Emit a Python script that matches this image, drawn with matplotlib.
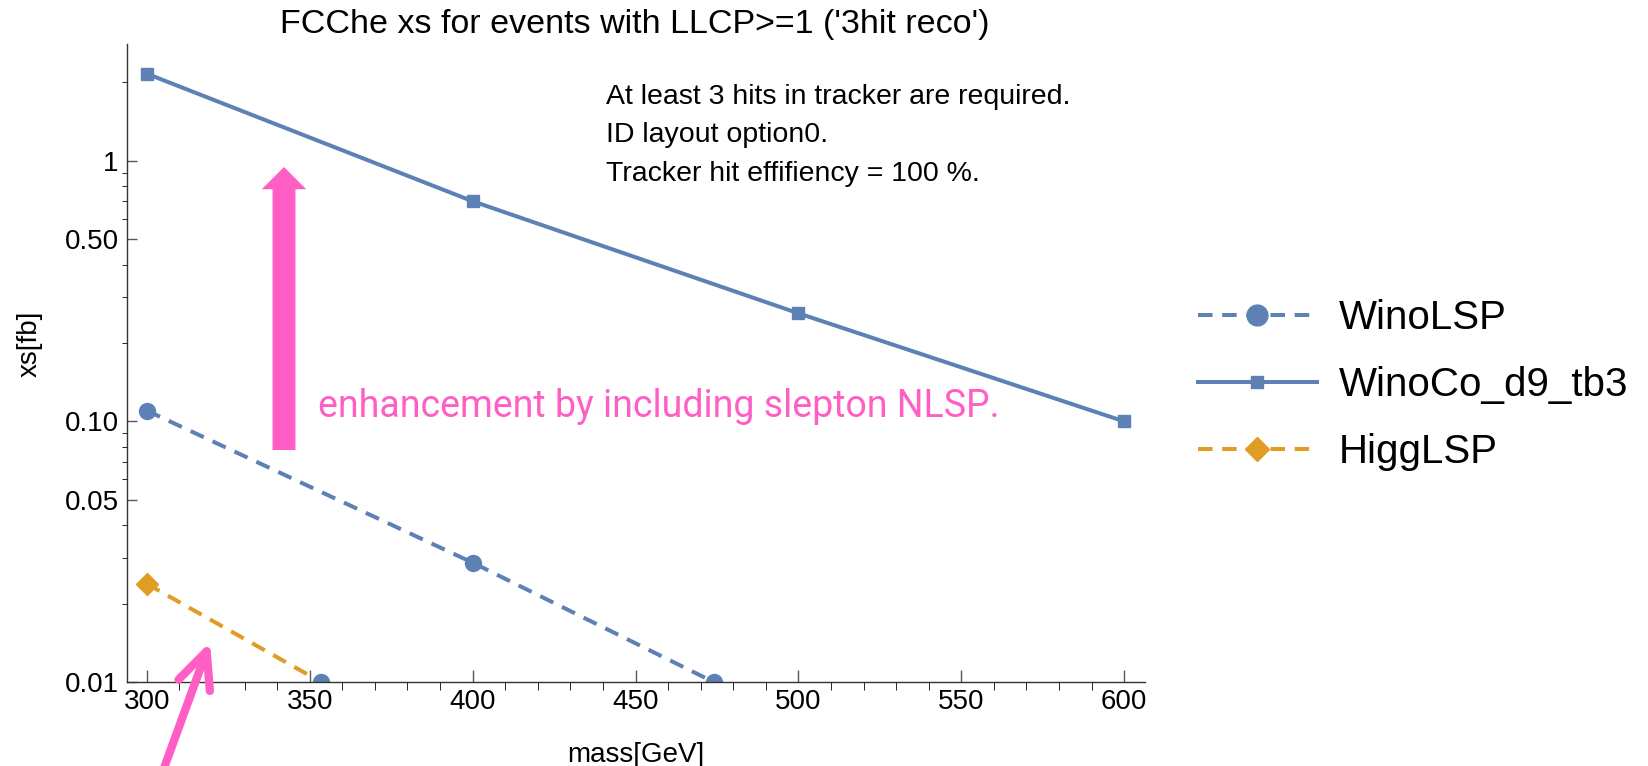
import numpy as np
import matplotlib
matplotlib.use("Agg")
import matplotlib.pyplot as plt
from matplotlib.lines import Line2D
from matplotlib.patches import FancyArrowPatch, ArrowStyle
from matplotlib.ticker import FixedLocator, FixedFormatter

plt.rcParams['font.family'] = ['Liberation Sans', 'DejaVu Sans']

# data
mass_wino = [300, 400, 500]
xs_wino = [0.110, 0.0287, 0.0069]
mass_co = [300, 400, 500, 600]
xs_co = [2.16, 0.70, 0.26, 0.100]
mass_higg = [300, 400]
xs_higg = [0.0238, 0.0047]

labels = ["WinoLSP", "WinoCo_d9_tb3", "HiggLSP"]
y_major = [0.01, 0.05, 0.1, 0.5, 1]
y_major_lbl = ["0.01", "0.05", "0.10", "0.50", "1"]

blue = "#5E81B5"
orange = "#E19C24"
pink = "#FF5FC4"
ymin, ymax = 0.01, 2.81

fig = plt.figure(figsize=(16.49, 7.66), dpi=100)
ax = fig.add_axes([0.077, 0.1097, 0.6174, 0.8329])

dash = (3.6, 2.4)
lw = 2.9
ax.plot(mass_wino, xs_wino, color=blue, lw=lw, ls=(0, dash), marker='o', ms=11.5)
ax.plot(mass_co, xs_co, color=blue, lw=lw, ls='-', marker='s', ms=8.5)
ax.plot(mass_higg, xs_higg, color=orange, lw=lw, ls=(0, dash), marker='D', ms=11)

# point where the dashed curves leave the frame (drawn as clipped dot)
for mx, yv in [(mass_wino, xs_wino), (mass_higg, xs_higg)]:
    ly = np.log10(yv)
    for i in range(len(mx) - 1):
        if ly[i] >= np.log10(ymin) > ly[i + 1]:
            t = (np.log10(ymin) - ly[i]) / (ly[i + 1] - ly[i])
            xc = mx[i] + t * (mx[i + 1] - mx[i])
            ax.plot([xc], [ymin], 'o', color=blue, ms=11.5)

ax.set_yscale('log')
ax.set_xlim(293.9, 606.4)
ax.set_ylim(ymin, ymax)

ax.xaxis.set_major_locator(FixedLocator(np.arange(300, 601, 50)))
ax.xaxis.set_minor_locator(FixedLocator(np.arange(300, 606, 10)))
minors = [m * 10.0 ** e for e in (-2, -1, 0) for m in range(2, 10)]
minors = [v for v in minors if v < ymax and not any(np.isclose(v, y_major))]
ax.yaxis.set_major_locator(FixedLocator(y_major))
ax.yaxis.set_major_formatter(FixedFormatter(y_major_lbl))
ax.yaxis.set_minor_locator(FixedLocator(minors))
ax.yaxis.set_minor_formatter(FixedFormatter([""] * len(minors)))

ax.tick_params(direction='in', labelsize=20, color='0.35', width=1)
ax.xaxis.set_tick_params(which='major', length=8.5, pad=5)
ax.xaxis.set_tick_params(which='minor', length=5.5)
ax.yaxis.set_tick_params(which='major', length=7, pad=6)
ax.yaxis.set_tick_params(which='minor', length=3.6)
for s in ['top', 'right']:
    ax.spines[s].set_visible(False)
for s in ['left', 'bottom']:
    ax.spines[s].set_linewidth(1)
    ax.spines[s].set_color('0.2')

ax.set_xlabel("mass[GeV]", fontsize=20, va='center')
ax.xaxis.set_label_coords(0.5, -0.115)
ax.set_ylabel("xs[fb]", fontsize=20, va='center')
ax.yaxis.set_label_coords(-0.096, 0.53)

fig.text(635 / 1649, 1 - 24 / 766, "FCChe xs for events with LLCP>=1 ('3hit reco')",
         fontsize=24.5, ha='center', va='center')

notes = ["At least 3 hits in tracker are required.", "ID layout option0.",
         "Tracker hit effifiency = 100 %."]
for i, s in enumerate(notes):
    fig.text(606 / 1649, 1 - (104 + 38.5 * i) / 766, s, fontsize=20.5, va='baseline')

fig.text(318 / 1649, 1 - 417 / 766, "enhancement by including slepton NLSP.",
         family='Roboto', fontsize=27, color=pink, va='baseline')

# fat arrow
fat = FancyArrowPatch((284 / 1649, 1 - 450 / 766), (284 / 1649, 1 - 167 / 766),
                      transform=fig.transFigure,
                      arrowstyle=ArrowStyle("simple", head_length=16, head_width=32, tail_width=16.5),
                      mutation_scale=1, shrinkA=0, shrinkB=0, color=pink, lw=0)
fig.patches.append(fat)

# thin arrow from below
thin = FancyArrowPatch((156 / 1649, 1 - 790 / 766), (210 / 1649, 1 - 642 / 766),
                       transform=fig.transFigure,
                       arrowstyle=ArrowStyle("->", head_length=26, head_width=12),
                       mutation_scale=1, shrinkA=0, shrinkB=0, color=pink, lw=6,
                       capstyle='round', joinstyle='round')
fig.patches.append(thin)

handles = [
    Line2D([], [], color=blue, lw=lw, ls=(0, dash), marker='o', ms=15),
    Line2D([], [], color=blue, lw=lw, ls='-', marker='s', ms=8.5),
    Line2D([], [], color=orange, lw=lw, ls=(0, dash), marker='D', ms=12),
]
fig.legend(handles, labels, loc='center left', bbox_to_anchor=(1198 / 1649, 1 - 385 / 766),
           frameon=False, fontsize=29, handlelength=2.95, handletextpad=0.55,
           labelspacing=0.72, borderpad=0, borderaxespad=0)

fig.savefig("out.png", dpi=100)
